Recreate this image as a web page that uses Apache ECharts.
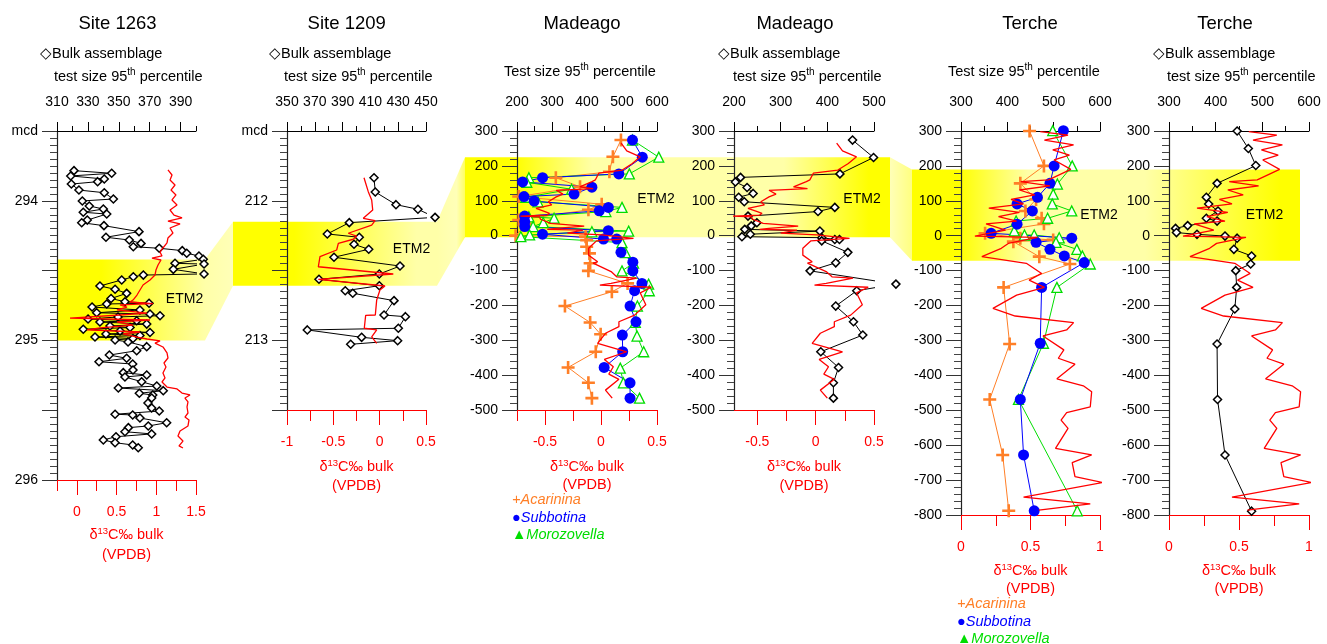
<!DOCTYPE html>
<html><head><meta charset="utf-8">
<script src="https://cdn.jsdelivr.net/npm/echarts@6/dist/echarts.min.js"></script>
<style>html,body{margin:0;padding:0;background:#fff}#c{width:1327px;height:644px}</style>
</head><body><div id="c"></div><script>
// ---------------- DATA ----------------
const titles = ['Site 1263','Site 1209','Madeago','Madeago','Terche','Terche'];
// ETM2 intervals (depth top, depth bottom)
const etm1263 = [294.42, 295.0];
const etm1209 = [212.15, 212.61];
const etmMadeago = [225, -5];
const etmTerche = [190, -72];
// tick labels
const sizeTicks1263 = [310,330,350,370,390], sizeMinor1263 = [310,320,340,360,380,400];
const d13Ticks1263 = [0,0.5,1,1.5], d13Minor1263 = [-0.25,0.25,0.75,1.25];
const sizeTicks1209 = [350,370,390,410,430,450], sizeMinor1209 = [360,380,400,420,440];
const d13Ticks1209 = [-1,-0.5,0,0.5], d13Minor1209 = [-0.75,-0.25,0.25];
const sizeTicksMadF = [200,300,400,500,600], sizeMinorMadF = [250,350,450,550];
const sizeTicksMadB = [200,300,400,500], sizeMinorMadB = [250,350,450];
const d13TicksMad = [-0.5,0,0.5], d13MinorMadF = [-0.75,-0.25,0.25], d13MinorMadB = [-0.25,0.25];
const sizeTicksTer = [300,400,500,600], sizeMinorTer = [350,450,550];
const d13TicksTer = [0,0.5,1], d13MinorTer = [0.25,0.75];

// Site 1263 bulk test size [mcd, size]
const bulk1263 = [[293.784,321.0],[293.803,345.4],[293.822,318.9],[293.844,340.6],[293.863,336.3],[293.880,319.3],[293.923,324.2],[293.942,340.6],[293.987,346.5],[294.001,326.4],[294.037,330.9],[294.059,340.0],[294.082,327.0],[294.095,342.2],[294.138,329.6],[294.157,326.0],[294.178,340.4],[294.221,363.1],[294.261,341.7],[294.281,356.8],[294.305,364.4],[294.329,359.4],[294.340,376.2],[294.357,391.1],[294.376,394.0],[294.395,401.9],[294.419,404.7],[294.448,386.4],[294.453,405.2],[294.491,385.3],[294.524,405.2],[294.532,365.9],[294.544,359.4],[294.567,351.9],[294.610,337.8],[294.634,347.6],[294.663,355.1],[294.700,345.0],[294.723,354.0],[294.734,369.6],[294.739,342.2],[294.761,332.7],[294.782,363.7],[294.802,335.7],[294.811,370.2],[294.823,376.7],[294.832,349.5],[294.847,330.1],[294.859,361.6],[294.868,337.8],[294.883,368.1],[294.897,344.3],[294.908,357.3],[294.920,327.0],[294.933,350.8],[294.943,370.2],[294.954,341.7],[294.965,363.7],[294.976,334.6],[294.986,359.2],[294.997,347.6],[295.011,356.0],[295.045,368.1],[295.074,361.6],[295.105,343.9],[295.128,355.1],[295.153,337.2],[295.169,359.0],[295.212,359.2],[295.231,352.9],[295.248,368.1],[295.262,354.0],[295.296,364.8],[295.327,374.6],[295.341,349.7],[295.360,378.8],[295.379,363.3],[295.391,372.0],[295.413,371.3],[295.448,368.9],[295.484,371.3],[295.506,376.2],[295.529,347.6],[295.534,359.0],[295.556,363.7],[295.590,381.0],[295.613,369.1],[295.625,356.2],[295.654,354.0],[295.670,371.3],[295.690,348.2],[295.713,340.0],[295.733,347.6],[295.749,359.0],[295.769,362.6]];
// Site 1263 bulk d13C [mcd, permil]
const d13C1263 = [[293.779,1.147],[293.815,1.198],[293.851,1.173],[293.887,1.236],[293.923,1.185],[293.958,1.248],[293.994,1.198],[294.030,1.261],[294.066,1.173],[294.102,1.223],[294.123,1.324],[294.145,1.147],[294.166,1.299],[294.195,1.173],[294.231,1.210],[294.266,1.147],[294.302,1.135],[294.338,1.084],[294.367,1.047],[294.395,1.072],[294.410,0.946],[294.424,1.059],[294.460,1.022],[294.496,0.996],[294.531,0.984],[294.567,0.921],[294.603,0.833],[294.639,0.795],[294.675,0.757],[294.711,0.707],[294.725,0.669],[294.736,0.959],[294.746,0.543],[294.761,0.631],[294.782,0.505],[294.804,0.883],[294.818,0.543],[294.840,-0.086],[294.854,0.921],[294.868,0.505],[294.890,0.707],[294.911,0.291],[294.925,0.128],[294.940,0.795],[294.954,0.581],[294.976,0.757],[294.990,0.883],[295.004,1.047],[295.019,0.984],[295.047,1.084],[295.090,1.135],[295.126,1.147],[295.162,1.097],[295.190,1.122],[295.233,1.084],[295.269,1.110],[295.298,1.072],[295.334,1.135],[295.348,1.261],[295.377,1.324],[295.391,1.424],[295.413,1.361],[295.441,1.399],[295.477,1.387],[295.520,1.399],[295.549,1.361],[295.570,1.412],[295.613,1.399],[295.649,1.299],[295.685,1.273],[295.721,1.336],[295.756,1.286],[295.771,1.336]];
// Site 1209
const bulk1209 = [[211.835,412.6],[211.937,413.5],[212.028,428.4],[212.061,444.2],[212.119,456.5],[212.157,394.8],[212.238,379.0],[212.262,402.0],[212.312,398.2],[212.348,408.8],[212.405,383.8],[212.468,431.3],[212.525,416.4],[212.563,373.0],[212.609,416.4],[212.645,391.9],[212.663,397.3],[212.716,427.0],[212.819,419.8],[212.831,435.2],[212.914,430.1],[212.926,364.6],[212.979,403.7],[213.003,429.6],[213.029,395.8]];
const d13C1209 = [[211.835,-0.169],[211.935,-0.123],[211.995,-0.086],[212.066,-0.075],[212.126,-0.177],[212.143,-0.050],[212.174,-0.086],[212.233,-0.339],[212.253,-0.248],[212.276,-0.285],[212.305,-0.446],[212.353,-0.464],[212.401,-0.644],[212.473,-0.662],[212.525,0.147],[212.563,-0.662],[212.611,0.057],[212.640,0.003],[212.711,-0.032],[212.819,-0.047],[212.821,-0.151],[212.914,-0.166],[212.926,-0.032],[212.976,-0.086],[213.022,-0.032]];
// Madeago [level, size]
const madAcarinina = [[274,497],[226,474],[183,464],[166,311],[140,380],[112,205],[90,442],[74,404],[45,205],[33,227],[0,196],[-3,396],[-13,399],[-32,399],[-51,407],[-79,409],[-101,404],[-137,516],[-161,471],[-202,337],[-249,409],[-283,439],[-333,425],[-378,346],[-422,404],[-466,414]];
const madSubbotina = [[274,530],[225,558],[177,491],[166,273],[154,216],[139,414],[119,363],[112,220],[99,249],[81,461],[71,435],[56,222],[40,222],[26,222],[14,461],[4,273],[-10,447],[-10,485],[-48,497],[-76,531],[-101,531],[-137,557],[-158,536],[-202,523],[-247,540],[-285,501],[-333,502],[-378,449],[-422,523],[-466,523]];
const madMorozovella = [[274,530],[225,605],[177,521],[166,234],[153,228],[133,356],[110,225],[97,260],[81,500],[69,454],[54,234],[50,306],[37,275],[26,246],[13,519],[11,414],[2,236],[-3,211],[-20,500],[-49,510],[-79,533],[-101,500],[-139,576],[-158,578],[-202,544],[-249,538],[-288,543],[-333,562],[-380,495],[-422,504],[-466,550]];
const madBulk = [[274,454],[224,499],[177,427],[167,214],[154,203],[138,228],[121,241],[110,210],[97,222],[81,416],[69,380],[56,230],[37,249],[28,237],[18,223],[13,384],[4,235],[-3,217],[-6,388],[-11,416],[-11,426],[-15,388],[-48,444],[-78,418],[-101,363],[-139,547],[-158,463],[-202,418],[-247,456],[-285,476],[-333,386],[-378,424],[-422,413],[-466,413]];
const madD13C = [[265,0.18],[243,0.23],[226,0.35],[207,0.28],[188,0.19],[179,-0.02],[160,-0.05],[155,-0.08],[140,-0.19],[135,-0.07],[130,-0.40],[119,-0.34],[111,-0.40],[97,-0.47],[88,-0.44],[83,-0.45],[78,-0.58],[69,-0.50],[64,-0.46],[59,-0.48],[56,-0.72],[54,-0.55],[47,-0.54],[35,-0.45],[27,-0.15],[21,-0.40],[18,-0.48],[16,-0.16],[11,-0.16],[7,-0.30],[2,0.01],[-8,0.29],[-13,0.05],[-15,-0.04],[-27,-0.08],[-36,-0.11],[-56,-0.11],[-75,-0.03],[-79,-0.07],[-103,0.09],[-118,0.14],[-122,0.32],[-137,0.09],[-142,-0.01],[-148,0.45],[-164,0.35],[-198,0.40],[-228,0.30],[-247,0.16],[-261,0.16],[-280,0.04],[-309,-0.03],[-333,0.23],[-355,0.03],[-376,0.11],[-381,0.12],[-397,0.07],[-412,0.16],[-443,0.04],[-466,0.10]];
// Terche [level, size]
const terAcarinina = [[300,448],[200,479],[150,428],[104,462],[71,439],[50,474],[34,479],[7,352],[-7,428],[-12,499],[-17,413],[-60,469],[-81,535],[-148,392],[-310,405],[-469,362],[-628,390],[-788,403]];
const terSubbotina = [[301,521],[200,501],[150,492],[110,465],[91,421],[71,454],[33,421],[7,365],[-7,539],[-19,462],[-39,492],[-58,523],[-77,566],[-148,474],[-308,471],[-469,428],[-628,435],[-788,458]];
const terMorozovella = [[301,498],[200,540],[148,508],[119,499],[91,497],[71,539],[50,487],[42,419],[14,415],[2,437],[2,458],[-6,512],[-19,505],[-39,550],[-58,562],[-81,579],[-148,507],[-308,478],[-469,424],[-788,551]];
const terBulk = [[300,446],[250,470],[201,486],[150,403],[110,380],[91,385],[71,405],[50,380],[42,403],[29,340],[21,314],[9,316],[4,360],[-1,420],[-7,446],[-39,439],[-58,477],[-81,475],[-100,443],[-148,445],[-210,441],[-310,403],[-469,404],[-628,420],[-789,477]];
const terD13C = [[298,0.57],[288,0.77],[274,0.60],[260,0.81],[246,0.66],[231,0.78],[217,0.67],[190,0.79],[160,0.63],[155,0.43],[143,0.64],[131,0.42],[117,0.53],[104,0.36],[91,0.45],[79,0.20],[67,0.42],[55,0.27],[42,0.40],[34,0.18],[16,0.32],[-1,0.10],[-5,0.55],[-22,0.34],[-36,0.29],[-60,0.15],[-79,0.47],[-108,0.58],[-127,0.49],[-148,0.60],[-170,0.40],[-208,0.23],[-230,0.39],[-249,0.81],[-270,0.76],[-287,0.59],[-327,0.74],[-351,0.70],[-368,0.82],[-410,0.69],[-430,0.88],[-447,0.94],[-490,0.93],[-507,0.76],[-528,0.72],[-552,0.77],[-609,0.68],[-628,0.94],[-650,0.80],[-690,0.82],[-707,1.02],[-749,0.45],[-768,0.93],[-786,0.56]];

// ---------------- LAYOUT ----------------
const FONT = '"Liberation Sans", Arial, Helvetica, sans-serif';
const TOP = 131;
const layout = [
  {left:57, width:139, height:349},
  {left:287, width:139, height:279},
  {left:517, width:140, height:279},
  {left:734, width:140, height:279},
  {left:961, width:139, height:384},
  {left:1169, width:140, height:384}
];
const cfg = [
  {size:[310,400], sT:sizeTicks1263, sM:sizeMinor1263, d:[-0.25,1.5], dT:d13Ticks1263, dM:d13Minor1263, y:[293.5,296], yi:0.5, ys:10, inv:true},
  {size:[350,450], sT:sizeTicks1209, sM:sizeMinor1209, d:[-1,0.5], dT:d13Ticks1209, dM:d13Minor1209, y:[211.5,213.5], yi:0.5, ys:10, inv:true},
  {size:[200,600], sT:sizeTicksMadF, sM:sizeMinorMadF, d:[-0.75,0.5], dT:d13TicksMad, dM:d13MinorMadF, y:[-500,300], yi:100, ys:5, inv:false},
  {size:[200,500], sT:sizeTicksMadB, sM:sizeMinorMadB, d:[-0.7,0.5], dT:d13TicksMad, dM:d13MinorMadB, y:[-500,300], yi:100, ys:5, inv:false},
  {size:[300,600], sT:sizeTicksTer, sM:sizeMinorTer, d:[0,1], dT:d13TicksTer, dM:d13MinorTer, y:[-800,300], yi:100, ys:5, inv:false},
  {size:[300,600], sT:sizeTicksTer, sM:sizeMinorTer, d:[0,1], dT:d13TicksTer, dM:d13MinorTer, y:[-800,300], yi:100, ys:5, inv:false}
];
const RED = '#ff0000', ORANGE = '#ff7f27', BLUE = '#0000ff', GREEN = '#00dd00';
const grids = [], xAxes = [], yAxes = [], series = [];
cfg.forEach((p, i) => {
  const g = layout[i];
  grids.push({left:g.left, top:TOP, width:g.width, height:g.height});
  const base = {gridIndex:i, type:'value', splitLine:{show:false}};
  xAxes.push(Object.assign({}, base, {position:'top', min:p.size[0], max:p.size[1],
    axisLine:{onZero:false, lineStyle:{color:'#000', width:1}},
    axisTick:{length:9, customValues:p.sT, lineStyle:{color:'#000'}},
    axisLabel:{customValues:p.sT, margin:22, fontSize:14, color:'#000', fontFamily:FONT}}));
  xAxes.push(Object.assign({}, base, {position:'top', min:p.size[0], max:p.size[1],
    axisLine:{show:false, onZero:false},
    axisTick:{length:5, customValues:p.sM, lineStyle:{color:'#000'}},
    axisLabel:{show:false}}));
  xAxes.push(Object.assign({}, base, {position:'bottom', min:p.d[0], max:p.d[1],
    axisLine:{onZero:false, lineStyle:{color:RED, width:1}},
    axisTick:{length:15, customValues:p.dT, lineStyle:{color:RED}},
    axisLabel:{customValues:p.dT, margin:25, fontSize:14, color:RED, fontFamily:FONT}}));
  xAxes.push(Object.assign({}, base, {position:'bottom', min:p.d[0], max:p.d[1],
    axisLine:{show:false, onZero:false},
    axisTick:{length:11, customValues:p.dM, lineStyle:{color:RED}},
    axisLabel:{show:false}}));
  const ymin = p.y[0];
  yAxes.push({gridIndex:i, type:'value', position:'left', min:p.y[0], max:p.y[1], interval:p.yi, inverse:p.inv,
    axisLine:{onZero:false, lineStyle:{color:'#222', width:1.2}},
    axisTick:{length:15, lineStyle:{color:'#333'}},
    minorTick:{show:true, splitNumber:p.ys, length:7, lineStyle:{color:'#444'}},
    splitLine:{show:false}, minorSplitLine:{show:false},
    axisLabel:{margin:19, fontSize:14, color:'#000', fontFamily:FONT,
      formatter: p.inv ? function(v){ if (Math.abs(v-ymin)<1e-6) return 'mcd'; return Math.abs(v-Math.round(v))<1e-6 ? String(Math.round(v)) : ''; } : function(v){ return String(v); }}});
});
const sw = d => d.map(r => [r[1], r[0]]);
function bulk(i, data){ return {type:'line', xAxisIndex:4*i, yAxisIndex:i, data:sw(data), symbol:'diamond', symbolSize:8, clip:false, z:3,
  itemStyle:{color:'#fff', borderColor:'#000', borderWidth:1.5}, lineStyle:{color:'#000', width:1}, emphasis:{disabled:true}}; }
function iso(i, data){ return {type:'line', xAxisIndex:4*i+2, yAxisIndex:i, data:sw(data), symbol:'none', showSymbol:false, clip:false, z:4,
  lineStyle:{color:RED, width:1.3}, itemStyle:{color:RED}, emphasis:{disabled:true}}; }
const PLUS = 'path://M4,0H6V4H10V6H6V10H4V6H0V4H4Z';
function acar(i, data){ return {type:'line', xAxisIndex:4*i, yAxisIndex:i, data:sw(data), symbol:PLUS, symbolSize:13, clip:false, z:3,
  itemStyle:{color:ORANGE}, lineStyle:{color:ORANGE, width:1}, emphasis:{disabled:true}}; }
function subb(i, data){ return {type:'line', xAxisIndex:4*i, yAxisIndex:i, data:sw(data), symbol:'circle', symbolSize:11, clip:false, z:3,
  itemStyle:{color:BLUE}, lineStyle:{color:BLUE, width:1}, emphasis:{disabled:true}}; }
function moro(i, data){ return {type:'line', xAxisIndex:4*i, yAxisIndex:i, data:sw(data), symbol:'triangle', symbolSize:10, clip:false, z:3,
  itemStyle:{color:'#fff', borderColor:GREEN, borderWidth:1.3}, lineStyle:{color:GREEN, width:1}, emphasis:{disabled:true}}; }
series.push(bulk(0,bulk1263), iso(0,d13C1263));
series.push(bulk(1,bulk1209), iso(1,d13C1209));
series.push(acar(2,madAcarinina), moro(2,madMorozovella), subb(2,madSubbotina), iso(2,madD13C));
series.push(bulk(3,madBulk), iso(3,madD13C));
series.push(acar(4,terAcarinina), moro(4,terMorozovella), subb(4,terSubbotina), iso(4,terD13C));
series.push(bulk(5,terBulk), iso(5,terD13C));

const chart = echarts.init(document.getElementById('c'), null, {renderer:'canvas'});
chart.setOption({animation:false, textStyle:{fontFamily:FONT}, grid:grids, xAxis:xAxes, yAxis:yAxes, series:series});

// ---------------- BANDS & TEXT ----------------
const yp = (i, v) => chart.convertToPixel({yAxisIndex:i}, v);
const BR = '#ffff00', PL = '#ffffa8';
function grad(stops){ return {type:'linear', x:0, y:0, x2:1, y2:0, colorStops:stops.map(s => ({offset:s[0], color:s[1]}))}; }
function poly(pts, fill){ return {type:'polygon', z:-10, silent:true, shape:{points:pts}, style:{fill:fill}}; }
const b1 = [yp(0,etm1263[0]), yp(0,etm1263[1])];
const b2 = [yp(1,etm1209[0]), yp(1,etm1209[1])];
const b3 = [yp(2,etmMadeago[0]), yp(2,etmMadeago[1])];
const b4 = [yp(4,etmTerche[0]), yp(4,etmTerche[1])];
const X = {a0:57, a1:205, b0:233, b1:437, c0:465, c1:890, d0:912, d1:1300};
const gfx = [
  poly([[X.a0,b1[0]],[X.a1,b1[0]],[X.a1,b1[1]],[X.a0,b1[1]]], grad([[0,BR],[0.3,BR],[1,PL]])),
  poly([[X.a1,b1[0]],[X.b0,b2[0]],[X.b0,b2[1]],[X.a1,b1[1]]], grad([[0,PL],[1,'#ffffb8']])),
  poly([[X.b0,b2[0]],[X.b1,b2[0]],[X.b1,b2[1]],[X.b0,b2[1]]], grad([[0,BR],[0.3,BR],[0.9,PL],[1,PL]])),
  poly([[X.b1,b2[0]],[X.c0,b3[0]],[X.c0,b3[1]],[X.b1,b2[1]]], grad([[0,PL],[0.7,'#ffffb8'],[1,'#ffff60']])),
  poly([[X.c0,b3[0]],[X.c1,b3[0]],[X.c1,b3[1]],[X.c0,b3[1]]], grad([[0,BR],[0.12,BR],[0.3,PL],[0.75,PL],[0.95,BR],[1,BR]])),
  poly([[X.c1,b3[0]],[X.d0,b4[0]],[X.d0,b4[1]],[X.c1,b3[1]]], grad([[0,'#ffffb8'],[1,'#ffff80']])),
  poly([[X.d0,b4[0]],[X.d1,b4[0]],[X.d1,b4[1]],[X.d0,b4[1]]], grad([[0,BR],[0.12,BR],[0.3,PL],[0.6,PL],[0.95,BR],[1,BR]]))
];
function txt(x, y, text, opt){ return {type:'text', x:x, y:y, z:20, silent:true, style:Object.assign({text:text, fill:'#000', font:'14.5px '+FONT, align:'center', verticalAlign:'middle'}, opt||{})}; }
const titleX = [117.5, 346.7, 582, 795, 1030, 1225];
titleX.forEach((x,i) => gfx.push(txt(x, 24, titles[i], {font:'18.5px '+FONT})));
// subtitles
const supRich = c => ({a:{fontSize:14.5, fontFamily:FONT, fill:c, lineHeight:20}, s:{fontSize:10, fontFamily:FONT, fill:c, verticalAlign:'top', lineHeight:12}});
[[40,54,54,77],[269,54,284,77],[718,54,733,77],[1153,54,1167,77]].forEach(r => {
  gfx.push(txt(r[0], r[1], '\u25C7Bulk assemblage', {align:'left'}));
  gfx.push(txt(r[2], r[3], '{a|test size 95}{s|th}{a| percentile}', {align:'left', rich:supRich('#000')}));
});
[[504,72],[948,72]].forEach(r => gfx.push(txt(r[0], r[1], '{a|Test size 95}{s|th}{a| percentile}', {align:'left', rich:supRich('#000')})));
// d13C axis names
const dRich = {a:{fontSize:14.5, fontFamily:FONT, fill:RED, lineHeight:18}, s:{fontSize:9.5, fontFamily:FONT, fill:RED, verticalAlign:'top', lineHeight:12}};
[[126.5,535,555],[356.5,467,486],[587,467,485],[804,467,486],[1030.5,571,589],[1239,571,589]].forEach(r => {
  gfx.push(txt(r[0], r[1], '{a|\u03B4}{s|13}{a|C\u2030 bulk}', {rich:dRich}));
  gfx.push(txt(r[0], r[2], '(VPDB)', {fill:RED}));
});
// ETM2 labels
[[184.5,299.5],[411.5,249],[656,199],[862,199],[1099,215.5],[1264.5,215.5]].forEach(r => gfx.push(txt(r[0], r[1], 'ETM2', {font:'14px '+FONT})));
// legends
[[512,500],[957,604]].forEach(r => {
  gfx.push(txt(r[0], r[1], '+Acarinina', {align:'left', fill:ORANGE, font:'italic 14.5px '+FONT}));
  gfx.push(txt(r[0], r[1]+17.5, '\u25CFSubbotina', {align:'left', fill:BLUE, font:'italic 14.5px '+FONT}));
  gfx.push(txt(r[0], r[1]+35, '\u25B2Morozovella', {align:'left', fill:GREEN, font:'italic 14.5px '+FONT}));
});
chart.setOption({graphic:{elements:gfx}});
</script></body></html>
